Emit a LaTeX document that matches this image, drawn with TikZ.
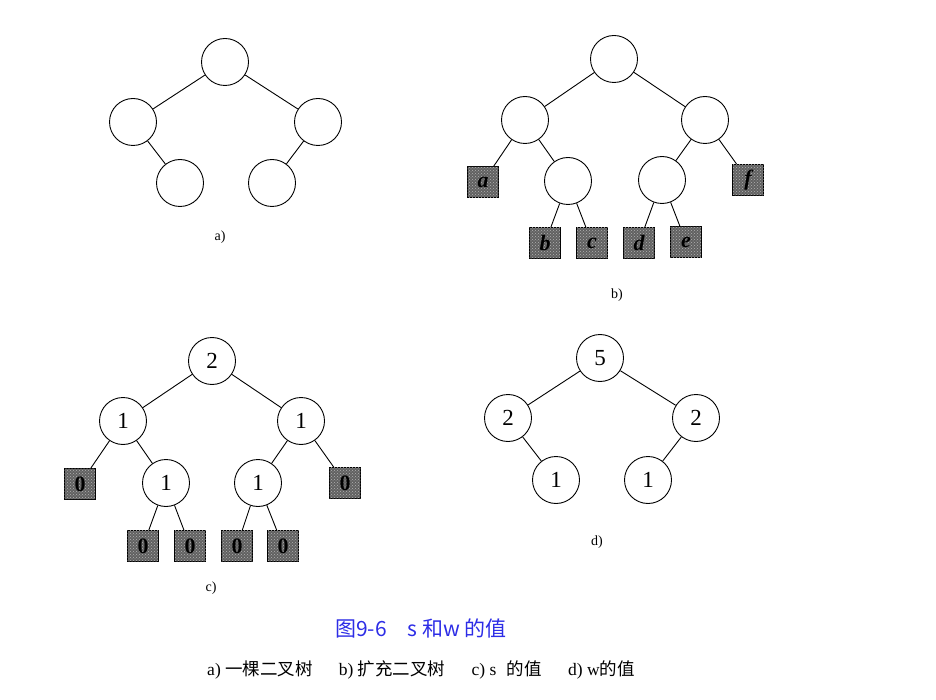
\documentclass[tikz,border=0pt]{standalone}
\usepackage{fontspec}
\setmainfont{Liberation Serif}
\newfontfamily\cjk{Noto Sans CJK SC}
\usetikzlibrary{patterns}
\definecolor{capblue}{RGB}{45,45,230}
\begin{document}
\begin{tikzpicture}[x=1pt,y=-1pt,
  cnode/.style={circle,draw,line width=0.9pt,minimum size=47pt,inner sep=0pt,fill=white,font=\fontsize{23}{23}\selectfont},
  leaf/.style={rectangle,draw,line width=1pt,minimum size=31pt,inner sep=0pt,fill=black!62,
     postaction={pattern=crosshatch dots,pattern color=black!30},font=\fontsize{22}{22}\selectfont\bfseries\itshape},
  zleaf/.style={leaf,font=\fontsize{22}{22}\selectfont\bfseries},
  edge/.style={line width=0.9pt},
  lbl/.style={font=\fontsize{14}{14}\selectfont}]
\useasboundingbox (0,0) rectangle (936,700);
% tree a
\node[cnode] (a0) at (225,62) {};
\node[cnode] (a1) at (133,122) {};
\node[cnode] (a2) at (318,122) {};
\node[cnode] (a3) at (180,183) {};
\node[cnode] (a4) at (272,183) {};
\draw[edge] (a0)--(a1) (a0)--(a2) (a1)--(a3) (a2)--(a4);
\node[lbl] (la) at (220,237) {a)};
% tree b
\node[cnode] (b0) at (614,59) {};
\node[cnode] (b1) at (525,120) {};
\node[cnode] (b2) at (705,120) {};
\node[cnode] (b3) at (568,181) {};
\node[cnode] (b4) at (662,180) {};
\node[leaf] (ba) at (483,182) {a};
\node[leaf] (bf) at (748,180) {f};
\node[leaf] (bb) at (545,243) {b};
\node[leaf] (bc) at (592,243) {c};
\node[leaf] (bd) at (639,243) {d};
\node[leaf] (be) at (686,242) {e};
\draw[edge] (b0)--(b1) (b0)--(b2) (b1)--(ba) (b1)--(b3) (b2)--(b4) (b2)--(bf)
  (b3)--(bb) (b3)--(bc) (b4)--(bd) (b4)--(be);
\node[lbl] (lb) at (617,295) {b)};
% tree c
\node[cnode] (c0) at (212,361) {2};
\node[cnode] (c1) at (123,421) {1};
\node[cnode] (c2) at (301,421) {1};
\node[cnode] (c3) at (166,483) {1};
\node[cnode] (c4) at (258,483) {1};
\node[zleaf] (z1) at (80,484) {0};
\node[zleaf] (z2) at (345,483) {0};
\node[zleaf] (z3) at (143,546) {0};
\node[zleaf] (z4) at (190,546) {0};
\node[zleaf] (z5) at (237,546) {0};
\node[zleaf] (z6) at (283,546) {0};
\draw[edge] (c0)--(c1) (c0)--(c2) (c1)--(z1) (c1)--(c3) (c2)--(c4) (c2)--(z2)
  (c3)--(z3) (c3)--(z4) (c4)--(z5) (c4)--(z6);
\node[lbl] (lc) at (211,588) {c)};
% tree d
\node[cnode] (d0) at (600,358) {5};
\node[cnode] (d1) at (508,418) {2};
\node[cnode] (d2) at (696,418) {2};
\node[cnode] (d3) at (556,480) {1};
\node[cnode] (d4) at (648,480) {1};
\draw[edge] (d0)--(d1) (d0)--(d2) (d1)--(d3) (d2)--(d4);
\node[lbl] (ld) at (597,542) {d)};
% captions
\node[text=capblue,font=\cjk\fontsize{21}{21}\selectfont] (cap) at (421,628) {图9-6\hspace{1em}s 和w 的值};
\node[font=\fontsize{17.5}{17.5}\selectfont] (sub) at (421,670)
  {a) {\cjk 一棵二叉树}\hspace{1.5em}b) {\cjk 扩充二叉树}\hspace{1.5em}c) s\hspace{0.6em}{\cjk 的值}\hspace{1.5em}d) w{\cjk 的值}};
\end{tikzpicture}
\end{document}
